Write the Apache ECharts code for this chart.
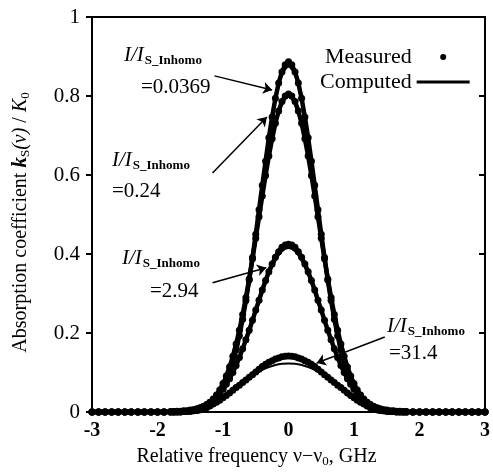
<!DOCTYPE html>
<html>
<head>
<meta charset="utf-8">
<script src="https://cdn.jsdelivr.net/npm/echarts@6/dist/echarts.min.js"></script>
<style>html,body{margin:0;background:#fff}#c{width:493px;height:476px}</style>
</head>
<body>
<div id="c"></div>
<script>
// frequency of the measured points, GHz
var xMeas = [-3.0,-2.9,-2.8,-2.7,-2.6,-2.5,-2.4,-2.3,-2.2,-2.1,-2.0,-1.9,
  -1.8,-1.75,-1.7,-1.65,-1.6,-1.55,-1.5,-1.45,-1.4,-1.35,-1.3,-1.25,-1.2,-1.15,-1.1,-1.05,
  -1.0,-0.95,-0.9,-0.85,-0.8,-0.75,-0.7,-0.65,-0.6,-0.55,-0.5,-0.45,-0.4,-0.35,-0.3,-0.25,
  -0.2,-0.15,-0.1,-0.05,0,0.05,0.1,0.15,0.2,0.25,0.3,0.35,0.4,0.45,0.5,0.55,0.6,0.65,0.7,
  0.75,0.8,0.85,0.9,0.95,1.0,1.05,1.1,1.15,1.2,1.25,1.3,1.35,1.4,1.45,1.5,1.55,1.6,1.65,
  1.7,1.75,1.8,1.9,2.0,2.1,2.2,2.3,2.4,2.5,2.6,2.7,2.8,2.9,3.0];

// measured k_S/K0, I/I_S = 0.0369
var measA = [0,0,0,0,0,0,0,0,0,0,0,0,
  0,0,0,0,0.001,0.001,0.002,0.003,0.004,0.006,0.009,0.013,0.018,0.025,0.034,0.045,
  0.059,0.077,0.099,0.125,0.157,0.193,0.235,0.282,0.334,0.391,0.450,0.512,0.574,0.635,
  0.694,0.747,0.794,0.833,0.861,0.879,0.887,0.879,0.861,0.833,0.794,0.747,0.694,0.635,
  0.574,0.512,0.450,0.391,0.334,0.282,0.235,0.193,0.157,0.125,0.099,0.077,0.059,0.045,
  0.034,0.025,0.018,0.013,0.009,0.006,0.004,0.003,0.002,0.001,0.001,0,0,0,0,
  0,0,0,0,0,0,0,0,0,0,0,0];
// I/I_S = 0.24
var measB = [0,0,0,0,0,0,0,0,0,0,0,0,
  0,0,0.001,0.001,0.002,0.002,0.004,0.005,0.007,0.010,0.014,0.018,0.025,0.033,0.043,0.056,
  0.072,0.091,0.114,0.141,0.172,0.207,0.247,0.290,0.337,0.388,0.440,0.494,0.547,0.599,
  0.648,0.692,0.731,0.762,0.786,0.800,0.805,0.800,0.786,0.762,0.731,0.692,0.648,0.599,
  0.547,0.494,0.440,0.388,0.337,0.290,0.247,0.207,0.172,0.141,0.114,0.091,0.072,0.056,
  0.043,0.033,0.025,0.018,0.014,0.010,0.007,0.005,0.004,0.002,0.002,0.001,0.001,0,0,
  0,0,0,0,0,0,0,0,0,0,0,0];
// I/I_S = 2.94
var measC = [0,0,0,0,0,0,0,0,0,0,0,0,
  0.001,0.001,0.002,0.002,0.003,0.003,0.005,0.006,0.008,0.011,0.014,0.019,0.024,0.030,0.038,0.047,
  0.058,0.070,0.084,0.100,0.118,0.138,0.160,0.183,0.207,0.232,0.258,0.283,0.309,0.333,
  0.355,0.375,0.392,0.406,0.417,0.423,0.425,0.423,0.417,0.406,0.392,0.375,0.355,0.333,
  0.309,0.283,0.258,0.232,0.207,0.183,0.160,0.138,0.118,0.100,0.084,0.070,0.058,0.047,
  0.038,0.030,0.024,0.019,0.014,0.011,0.008,0.006,0.005,0.003,0.003,0.002,0.002,0.001,0.001,
  0,0,0,0,0,0,0,0,0,0,0,0];
// I/I_S = 31.4
var measD = [0,0,0,0,0,0,0,0,0,0,0,0,
  0,0,0,0,0.001,0.001,0.002,0.003,0.004,0.006,0.008,0.011,0.015,0.020,0.025,0.030,
  0.036,0.042,0.048,0.055,0.062,0.068,0.075,0.081,0.088,0.094,0.101,0.108,0.115,0.121,
  0.126,0.130,0.134,0.137,0.140,0.141,0.142,0.141,0.140,0.137,0.134,0.130,0.126,0.121,
  0.115,0.108,0.101,0.094,0.088,0.081,0.075,0.068,0.062,0.055,0.048,0.042,0.036,0.030,
  0.025,0.020,0.015,0.011,0.008,0.006,0.004,0.003,0.002,0.001,0.001,0,0,0,0,
  0,0,0,0,0,0,0,0,0,0,0,0];

// frequency of the computed curves, GHz
var xComp = [-3,-2.5,-2,-1.8,-1.7,-1.6,-1.5,-1.4,-1.3,-1.2,-1.1,-1.0,-0.9,-0.8,-0.7,-0.6,
  -0.5,-0.4,-0.3,-0.2,-0.1,0,0.1,0.2,0.3,0.4,0.5,0.6,0.7,0.8,0.9,1.0,1.1,1.2,1.3,1.4,1.5,
  1.6,1.7,1.8,2,2.5,3];
var compA = [0,0,0,0,0,0.001,0.002,0.004,0.009,0.018,0.033,0.059,0.098,0.155,0.233,0.331,
  0.445,0.568,0.686,0.785,0.852,0.875,0.852,0.785,0.686,0.568,0.445,0.331,0.233,0.155,
  0.098,0.059,0.033,0.018,0.009,0.004,0.002,0.001,0,0,0,0,0];
var compB = [0,0,0,0,0.001,0.002,0.004,0.007,0.014,0.025,0.043,0.071,0.113,0.170,0.245,0.334,
  0.436,0.542,0.642,0.725,0.779,0.798,0.779,0.725,0.642,0.542,0.436,0.334,0.245,0.170,
  0.113,0.071,0.043,0.025,0.014,0.007,0.004,0.002,0.001,0,0,0,0];
var compC = [0,0,0,0.001,0.002,0.003,0.005,0.008,0.014,0.023,0.037,0.057,0.082,0.115,0.156,0.202,
  0.252,0.302,0.347,0.383,0.407,0.415,0.407,0.383,0.347,0.302,0.252,0.202,0.156,0.115,
  0.082,0.057,0.037,0.023,0.014,0.008,0.005,0.003,0.002,0.001,0,0,0];
var compD = [0,0,0,0,0,0.001,0.002,0.004,0.008,0.015,0.025,0.036,0.048,0.062,0.075,0.087,
  0.098,0.107,0.114,0.119,0.122,0.123,0.122,0.119,0.114,0.107,0.098,0.087,0.075,0.062,
  0.048,0.036,0.025,0.015,0.008,0.004,0.002,0.001,0,0,0,0,0];

var ratios = ['=0.0369', '=0.24', '=2.94', '=31.4'];

var serif = 'Liberation Serif';

// label boxes (px) and arrows (data coords)
var notes = [
  {head: [124, 45], tail: [141, 77], from: [-1.13, 0.851], to: [-0.25, 0.815]},
  {head: [112, 150], tail: [112, 181], from: [-1.16, 0.605], to: [-0.33, 0.747]},
  {head: [122, 248], tail: [150, 281], from: [-1.16, 0.327], to: [-0.34, 0.365]},
  {head: [387, 316], tail: [389, 343], from: [1.47, 0.19], to: [0.43, 0.124]}
];

function pairs(xs, ys) {
  return xs.map(function (x, i) { return [x, ys[i]]; });
}

function measured(ys) {
  return {
    type: 'line', name: 'Measured', data: pairs(xMeas, ys),
    symbol: 'circle', symbolSize: 7, showSymbol: true, showAllSymbol: true,
    lineStyle: {color: '#000', width: 4.5}, itemStyle: {color: '#000'}, z: 2
  };
}

function computed(ys) {
  return {
    type: 'line', name: 'Computed', data: pairs(xComp, ys), symbol: 'none', smooth: 0.3,
    lineStyle: {color: '#000', width: 2}, itemStyle: {color: '#000'}, z: 3
  };
}

var graphics = [];
notes.forEach(function (n, i) {
  graphics.push({
    type: 'text', left: n.head[0], top: n.head[1],
    style: {
      text: '{i|I/I}{s|S_Inhomo}',
      rich: {
        i: {fontFamily: serif, fontSize: 21, fontStyle: 'italic', fill: '#000'},
        s: {fontFamily: serif, fontSize: 13, fontWeight: 'bold', fill: '#000', padding: [11, 0, 0, 1]}
      }
    }
  });
  graphics.push({
    type: 'text', left: n.tail[0], top: n.tail[1],
    style: {text: ratios[i], fontFamily: serif, fontSize: 21, fill: '#000'}
  });
});

var compSeries = computed(compA);
compSeries.markLine = {
  silent: true, symbol: ['none', 'arrow'], symbolSize: 9,
  lineStyle: {color: '#000', width: 1.5, type: 'solid'},
  label: {show: false},
  data: notes.map(function (n) { return [{coord: n.from}, {coord: n.to}]; })
};

var chart = echarts.init(document.getElementById('c'));
chart.setOption({
  animation: false,
  backgroundColor: '#fff',
  grid: {left: 92, right: 6, top: 17, bottom: 64, show: true, borderColor: '#000', borderWidth: 2},
  legend: {
    left: 315, top: 41, orient: 'vertical', align: 'right', selectedMode: false,
    itemWidth: 53, itemHeight: 6, itemGap: 3,
    textStyle: {fontFamily: serif, fontSize: 22, color: '#000'},
    data: [{name: 'Measured', icon: 'circle'}, {name: 'Computed', icon: 'path://M0 0H55V3H0Z'}]
  },
  xAxis: {
    type: 'value', min: -3, max: 3, interval: 1,
    name: 'Relative frequency ν−ν{sub|0}, GHz', nameLocation: 'middle', nameGap: 33,
    nameTextStyle: {
      fontFamily: serif, fontSize: 20, color: '#000', padding: [0, 64, 0, 0],
      rich: {sub: {fontFamily: serif, fontSize: 13, color: '#000', padding: [10, 0, 0, 0]}}
    },
    axisLine: {onZero: false, lineStyle: {color: '#000', width: 2}},
    axisTick: {show: false},
    axisLabel: {fontFamily: serif, fontSize: 20, fontWeight: 'bold', color: '#000', margin: 9},
    splitLine: {show: false}
  },
  yAxis: [{
    type: 'value', min: 0, max: 1, interval: 0.2,
    name: 'Absorption coefficient {k|k}{sub|S}{it|(ν)} / {it|K}{sub|0}',
    nameLocation: 'middle', nameGap: 60, nameRotate: 90,
    nameTextStyle: {
      fontFamily: serif, fontSize: 20, color: '#000', padding: [0, 16, 0, 0],
      rich: {
        k: {fontFamily: serif, fontSize: 21, fontStyle: 'italic', fontWeight: 'bold', color: '#000'},
        it: {fontFamily: serif, fontSize: 20, fontStyle: 'italic', color: '#000'},
        sub: {fontFamily: serif, fontSize: 13, color: '#000', padding: [10, 0, 0, 0]}
      }
    },
    axisLine: {show: true, onZero: false, lineStyle: {color: '#000', width: 2}},
    axisTick: {show: true, length: 6, lineStyle: {color: '#000', width: 2}},
    axisLabel: {fontFamily: serif, fontSize: 21, color: '#000', margin: 12},
    splitLine: {show: false}
  }, {
    type: 'value', min: 0, max: 1, interval: 0.2, position: 'right',
    axisLine: {show: true, onZero: false, lineStyle: {color: '#000', width: 2}},
    axisTick: {show: true, inside: true, length: 6, lineStyle: {color: '#000', width: 2}},
    axisLabel: {show: false},
    splitLine: {show: false}
  }],
  graphic: graphics,
  series: [
    measured(measA), measured(measB), measured(measC), measured(measD),
    compSeries, computed(compB), computed(compC), computed(compD)
  ]
});
</script>
</body>
</html>
